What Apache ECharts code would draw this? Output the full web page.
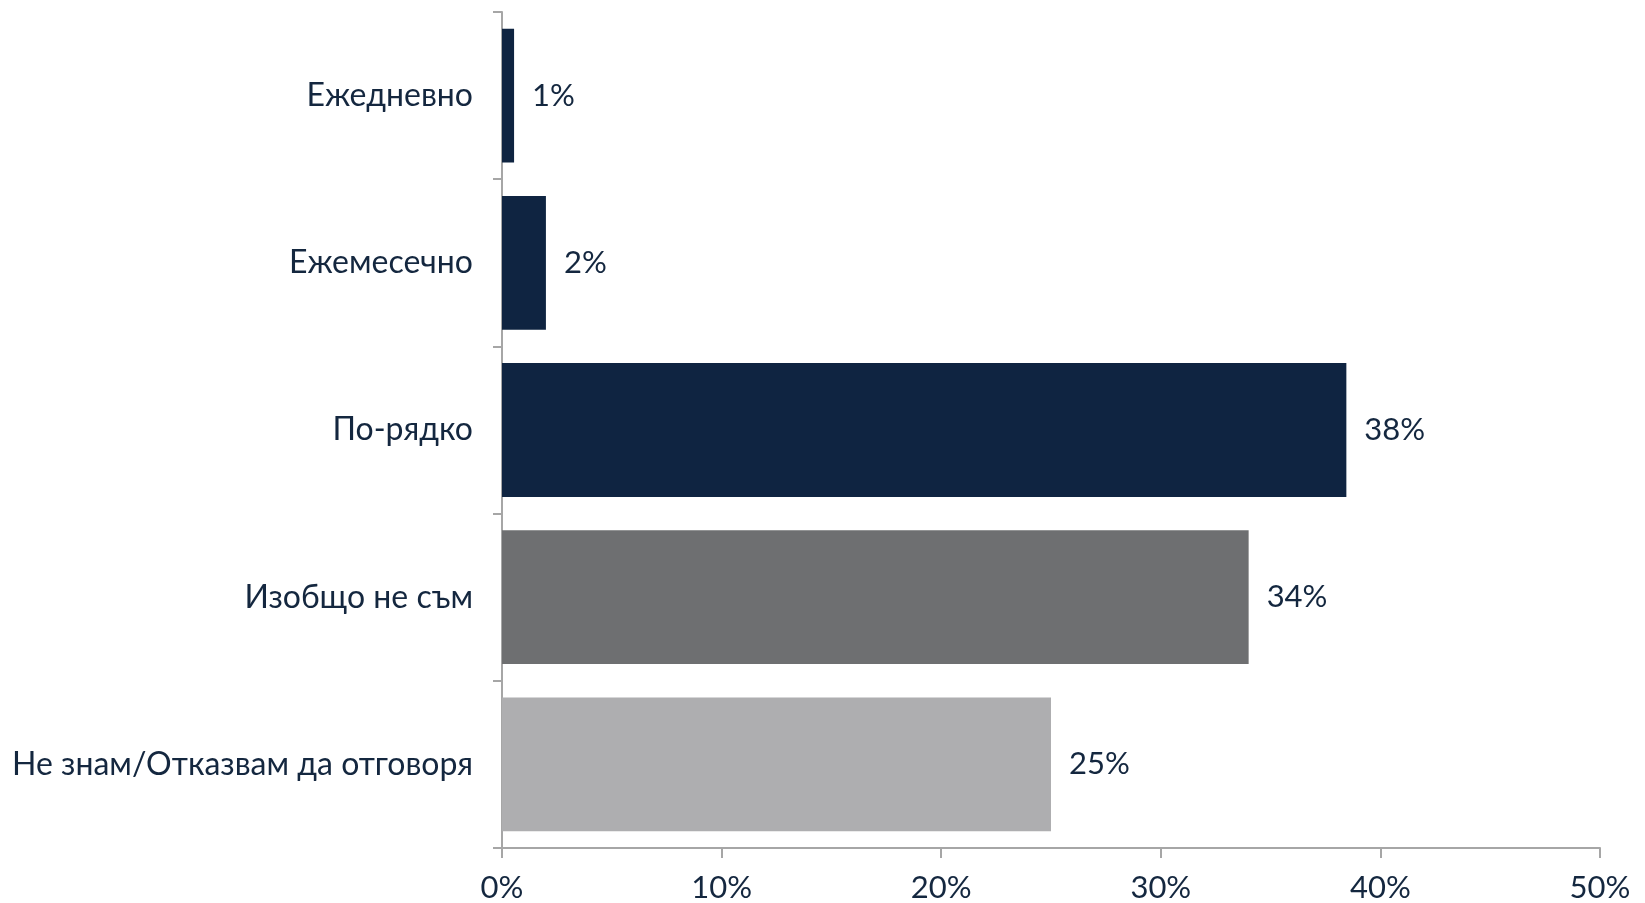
<!DOCTYPE html>
<html><head><meta charset="utf-8">
<script src="https://cdn.jsdelivr.net/npm/echarts@6/dist/echarts.min.js"></script>
<style>html,body{margin:0;padding:0;background:#fff}#c{width:1645px;height:903px}</style>
</head><body><div id="c"></div>
<script>
const categories = ["Ежедневно", "Ежемесечно", "По-рядко", "Изобщо не съм", "Не знам/Отказвам да отговоря"];
const values = [0.55, 2.0, 38.45, 34.0, 25.0];
const barColors = ["#0F2441", "#0F2441", "#0F2441", "#6E6F71", "#AEAEB0"];
const xTicks = [0, 10, 20, 30, 40, 50];

const FONT = "Lato";
const TXT = "#14273F";
const chart = echarts.init(document.getElementById('c'), null, {renderer: 'canvas'});
chart.setOption({
  animation: false,
  grid: {left: 502, right: 45, top: 12, bottom: 54, containLabel: false},
  xAxis: {
    type: 'value', min: xTicks[0], max: xTicks[xTicks.length - 1], interval: 10,
    splitLine: {show: false},
    axisLine: {show: true, lineStyle: {color: '#A6A6A6', width: 2}},
    axisTick: {show: true, length: 10, lineStyle: {color: '#A6A6A6', width: 2}},
    axisLabel: {formatter: v => v + '%', fontFamily: FONT, fontSize: 31, color: TXT, margin: 24}
  },
  yAxis: {
    type: 'category', data: categories, inverse: true,
    axisLine: {show: true, lineStyle: {color: '#A6A6A6', width: 2}},
    axisTick: {show: true, length: 9, lineStyle: {color: '#A6A6A6', width: 2}},
    axisLabel: {fontFamily: FONT, fontSize: 32, color: TXT, margin: 29}
  },
  series: [{
    type: 'bar',
    data: values.map((v, i) => ({value: v, itemStyle: {color: barColors[i]}})),
    barCategoryGap: '20%',
    label: {show: true, position: 'right', distance: 18, formatter: p => Math.round(p.value) + '%',
      fontFamily: FONT, fontSize: 31, color: TXT}
  }]
});
</script></body></html>
